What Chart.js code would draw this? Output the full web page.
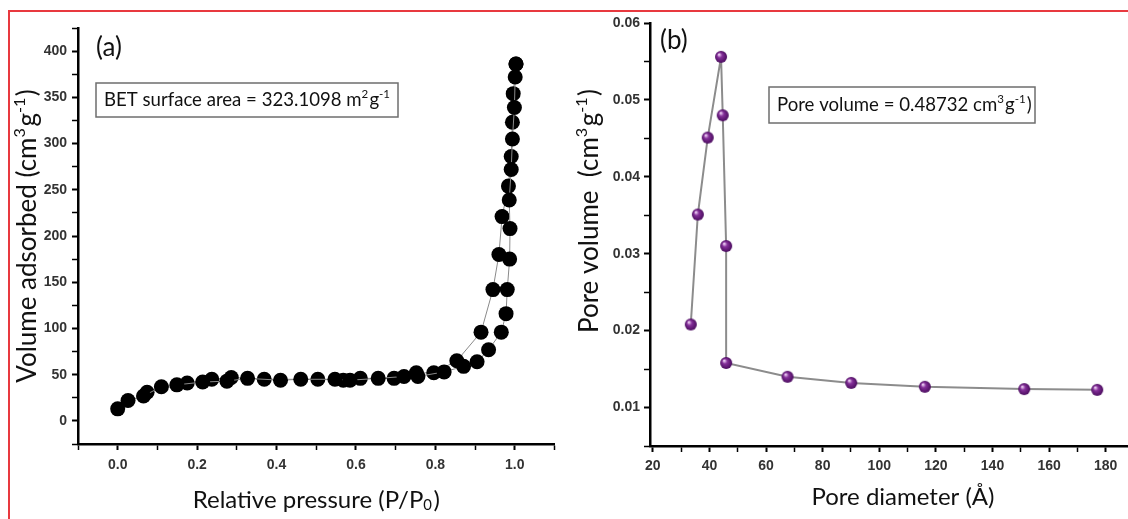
<!DOCTYPE html>
<html>
<head>
<meta charset="utf-8">
<script src="https://cdn.jsdelivr.net/npm/chart.js@4.4.0/dist/chart.umd.min.js"></script>
<style>
  html, body { margin: 0; padding: 0; background: #fff; width: 1128px; height: 519px; overflow: hidden; }
  #frame { position: absolute; left: 8px; top: 10px; width: 1300px; height: 700px;
           border-top: 2px solid #e8393f; border-left: 2px solid #e8393f; }
  #chartA { position: absolute; left: 0; top: 0; }
  #chartB { position: absolute; left: 560px; top: 0; }
</style>
</head>
<body>
<div id="frame"></div>
<canvas id="chartA" width="562" height="519"></canvas>
<canvas id="chartB" width="620" height="519"></canvas>
<script>
// (a) N2 isotherm, adsorption branch then desorption branch
const adsP = [0.000, 0.026, 0.065, 0.110, 0.149, 0.214, 0.275, 0.327, 0.410, 0.461, 0.547, 0.585, 0.656, 0.721, 0.756,
              0.822, 0.871, 0.905, 0.934, 0.966, 0.978, 0.981, 0.987, 0.988, 0.986, 0.991, 0.994, 0.999, 1.001, 1.003];
const adsV = [13, 22, 27, 37, 39, 42, 43, 46, 44, 45, 45, 44, 46, 48, 48,
              53, 59, 64, 77, 96, 116, 142, 175, 208, 239, 272, 305, 339, 372, 386];
const desP = [1.003, 0.996, 0.994, 0.991, 0.984, 0.968, 0.960, 0.945, 0.915, 0.854, 0.796, 0.752, 0.696, 0.611,
              0.568, 0.504, 0.369, 0.286, 0.237, 0.175, 0.074];
const desV = [386, 354, 323, 286, 254, 221, 180, 142, 96, 65, 52, 52, 46, 46,
              44, 45, 45, 47, 45, 41, 31];

// (b) pore size distribution
const poreD = [33.4, 35.9, 39.4, 44.1, 44.7, 45.9, 45.9, 67.6, 90.1, 116.1, 151.2, 177.0];
const poreV = [0.0208, 0.0351, 0.0451, 0.0556, 0.0480, 0.0310, 0.0158, 0.0140, 0.0132, 0.0127, 0.0124, 0.0123];

// texts (parts: [text, ''|'sup'|'sub'])
const titleAY = [['Volume adsorbed (cm', ''], ['3', 'sup'], ['g', ''], ['-1', 'sup'], [')', '']];
const titleAX = [['Relative pressure (P/P', ''], ['0', 'sub'], [')', '']];
const titleBY = [['Pore volume  (cm', ''], ['3', 'sup'], ['g', ''], ['-1', 'sup'], [')', '']];
const titleBX = [['Pore diameter (\u00C5)', '']];
const noteA = [['BET surface area = 323.1098 m', ''], ['2', 'sup'], ['g', ''], ['-1', 'sup']];
const noteB = [['Pore volume = 0.48732 cm', ''], ['3', 'sup'], ['g', ''], ['-1', 'sup'], [')', '']];

const tickFont = { family: 'Liberation Sans', size: 14, weight: 'bold' };
const textFamily = 'Lato';

function toXY(xs, ys) {
    return xs.map((x, i) => ({ x: x, y: ys[i] }));
}

// draws text with sub/superscripts, y is the middle line
function richText(ctx, parts, x, y, size, align) {
    const widths = parts.map(([t, m]) => {
        ctx.font = (m ? size * 0.62 : size) + 'px ' + textFamily;
        return ctx.measureText(t).width + (m ? size * 0.06 : 0);
    });
    const total = widths.reduce((a, b) => a + b, 0);
    let cx = align === 'center' ? x - total / 2 : x;
    ctx.textBaseline = 'middle';
    ctx.textAlign = 'left';
    parts.forEach(([t, m], i) => {
        ctx.font = (m ? size * 0.62 : size) + 'px ' + textFamily;
        const dy = m === 'sup' ? -size * 0.33 : (m === 'sub' ? size * 0.22 : 0);
        ctx.fillText(t, cx, y + dy);
        cx += widths[i];
    });
}

function rotatedText(ctx, parts, x, y, size) {
    ctx.save();
    ctx.translate(x, y);
    ctx.rotate(-Math.PI / 2);
    richText(ctx, parts, 0, 0, size, 'center');
    ctx.restore();
}

function noteBox(ctx, parts, x, y, w, h, size) {
    ctx.save();
    ctx.fillStyle = '#fff';
    ctx.fillRect(x, y, w, h);
    ctx.strokeStyle = '#6e6e6e';
    ctx.lineWidth = 1.5;
    ctx.strokeRect(x, y, w, h);
    ctx.fillStyle = '#111';
    richText(ctx, parts, x + 8, y + h / 2, size, 'left');
    ctx.restore();
}

function linAxis(min, max, step, isMajor, fmt, pad, fit) {
    return {
        type: 'linear',
        min: min,
        max: max,
        border: { display: true, color: '#000', width: 2.5 },
        grid: {
            drawOnChartArea: false,
            drawTicks: true,
            tickLength: 6,
            tickColor: '#000',
            tickWidth: c => (c.tick && isMajor(c.tick.value)) ? 2 : 1.5
        },
        ticks: {
            stepSize: step,
            autoSkip: false,
            includeBounds: false,
            maxRotation: 0,
            minRotation: 0,
            padding: pad,
            color: '#333',
            font: tickFont,
            callback: v => isMajor(v) ? fmt(v) : ''
        },
        afterFit: fit
    };
}

// sphere-like marker for panel (b)
function makeBall(r) {
    const c = document.createElement('canvas');
    const s = r * 2 + 2;
    c.width = s;
    c.height = s;
    const g = c.getContext('2d');
    const grad = g.createRadialGradient(s / 2 - r * 0.35, s / 2 - r * 0.4, r * 0.1, s / 2, s / 2, r);
    grad.addColorStop(0, '#e9c8f0');
    grad.addColorStop(0.35, '#85309a');
    grad.addColorStop(1, '#4a0b5e');
    g.fillStyle = grad;
    g.beginPath();
    g.arc(s / 2, s / 2, r, 0, Math.PI * 2);
    g.fill();
    return c;
}

Chart.defaults.font.family = textFamily;

const decorA = {
    id: 'decorA',
    afterDraw(chart) {
        const ctx = chart.ctx;
        const area = chart.chartArea;
        ctx.save();
        ctx.fillStyle = '#111';
        richText(ctx, [['(a)', '']], 96, 48, 26, 'left');
        rotatedText(ctx, titleAY, 28, (area.top + area.bottom) / 2, 26);
        richText(ctx, titleAX, (area.left + area.right) / 2, 500, 24, 'center');
        ctx.restore();
        noteBox(ctx, noteA, 96, 83, 302, 34, 18.6);
    }
};

const decorB = {
    id: 'decorB',
    afterDraw(chart) {
        const ctx = chart.ctx;
        ctx.save();
        ctx.fillStyle = '#111';
        richText(ctx, [['(b)', '']], 100, 41, 26, 'left');
        rotatedText(ctx, titleBY, 30, 211, 26);
        richText(ctx, titleBX, 343, 497, 24, 'center');
        ctx.restore();
        noteBox(ctx, noteB, 209, 87, 266, 36, 18.6);
    }
};

new Chart(document.getElementById('chartA'), {
    type: 'scatter',
    data: {
        datasets: [{
            label: 'Adsorption',
            data: toXY(adsP, adsV),
            showLine: true,
            borderColor: '#8a8a8a',
            borderWidth: 1,
            pointRadius: 7.5,
            pointBackgroundColor: '#000',
            pointBorderColor: '#000',
            pointBorderWidth: 0
        }, {
            label: 'Desorption',
            data: toXY(desP, desV),
            showLine: true,
            borderColor: '#8a8a8a',
            borderWidth: 1,
            pointRadius: 7.5,
            pointBackgroundColor: '#000',
            pointBorderColor: '#000',
            pointBorderWidth: 0
        }]
    },
    options: {
        responsive: false,
        animation: false,
        layout: { padding: { left: 0, top: 28, right: 5, bottom: 0 } },
        plugins: { legend: { display: false }, tooltip: { enabled: false } },
        scales: {
            x: linAxis(-0.1, 1.1, 0.1, v => Math.round(v * 10) % 2 === 0, v => v.toFixed(1), 7,
                s => { s.height = 75; }),
            y: linAxis(-25, 425, 25, v => v % 50 === 0 && v >= 0 && v <= 400, v => String(v), 5,
                s => { s.width = 78; })
        }
    },
    plugins: [decorA]
});

new Chart(document.getElementById('chartB'), {
    type: 'scatter',
    data: {
        datasets: [{
            label: 'Pore volume',
            data: toXY(poreD, poreV),
            showLine: true,
            borderColor: '#8c8c8c',
            borderWidth: 2,
            pointStyle: makeBall(6),
            pointRadius: 6
        }]
    },
    options: {
        responsive: false,
        animation: false,
        layout: { padding: { left: 0, top: 23, right: 16, bottom: 0 } },
        plugins: { legend: { display: false }, tooltip: { enabled: false } },
        scales: {
            x: linAxis(19, 200, 10, v => v % 20 === 0, v => String(v), 6,
                s => { s.height = 73; }),
            y: linAxis(0.005, 0.06, 0.005, v => Math.abs(Math.round(v * 1000)) % 10 === 0, v => v.toFixed(2), 4,
                s => { s.width = 90; })
        }
    },
    plugins: [decorB]
});
</script>
</body>
</html>
